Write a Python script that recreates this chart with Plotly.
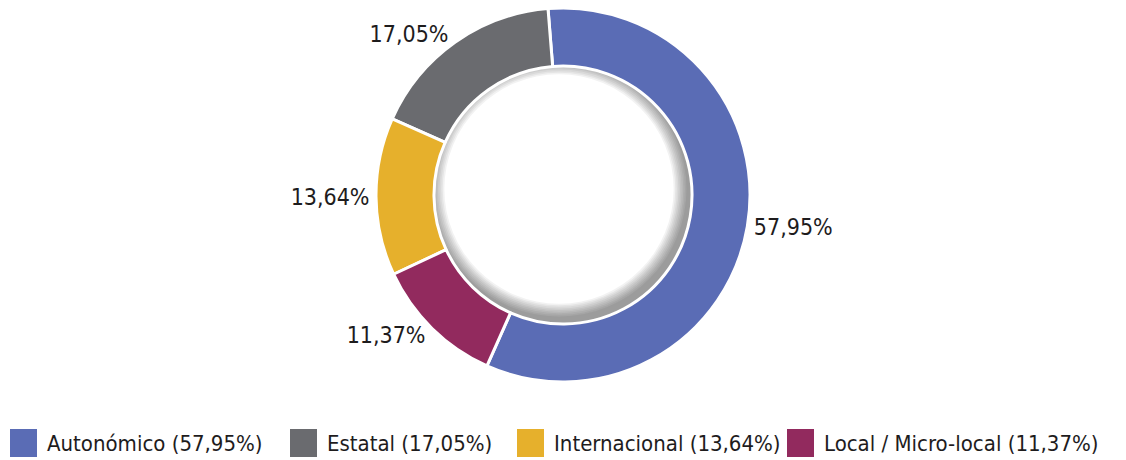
import plotly.graph_objects as go

# Data
labels = ["Autonómico", "Estatal", "Internacional", "Local / Micro-local"]
values = [57.95, 17.05, 13.64, 11.37]
colors = ["#5a6cb5", "#6a6b6f", "#e6b02c", "#922a5e"]

# The page puts the figure 8px in from the top-left corner, so work in
# reference pixels and subtract that offset.
OFF = 8
W, H = 1126 - OFF, 460 - OFF
R = 187
cx_px, cy_px = 563 - OFF, 195 - OFF      # donut centre (figure pixels)
top = cy_px - R
plot_h = 2 * R
bottom = H - top - plot_h
hole = 0.69
legend_x = [10, 290, 517, 787]          # reference pixels
FONT = "DejaVu Sans Condensed, Liberation Sans Narrow, sans-serif"


def fmt(v):
    return f"{v:.2f}".replace(".", ",") + "%"


def px(x):
    return (x - OFF) / W


def py(y):
    return (top + plot_h - (y - OFF)) / plot_h


fig = go.Figure()

# soft inner shadow: stacked faint rings under the hole, shifted up-left so
# the shade shows mostly along the lower-right inner edge
r_s = R * 0.73
dx, dy = -4, 6
for k in range(1, 10):
    sx = (cx_px + dx) / W
    sy = 0.5 + dy / plot_h
    fig.add_trace(go.Pie(
        values=[1],
        marker=dict(colors=["rgba(0,0,0,0.05)"], line=dict(width=0)),
        hole=(R * hole - 1.6 * k) / r_s,
        domain=dict(x=[sx - r_s / W, sx + r_s / W], y=[sy - r_s / plot_h, sy + r_s / plot_h]),
        textinfo="none", hoverinfo="skip", showlegend=False, sort=False,
    ))

fig.add_trace(go.Pie(
    labels=labels,
    values=values,
    text=[fmt(v) for v in values],
    textinfo="text",
    textposition="outside",
    textfont=dict(family=FONT, size=23, color="#1e1c1d"),
    marker=dict(colors=colors, line=dict(color="white", width=3)),
    hole=hole,
    sort=False,
    direction="counterclockwise",
    rotation=-4.6,
    showlegend=False,
    domain=dict(x=[(cx_px - R) / W, (cx_px + R) / W], y=[0, 1]),
))

# legend drawn as squares + labels under the donut
shapes = []
annotations = []
for lx, lab, v, c in zip(legend_x, labels, values, colors):
    shapes.append(dict(
        type="rect", xref="paper", yref="paper", line=dict(width=0), fillcolor=c,
        x0=px(lx), x1=px(lx + 27), y0=py(457), y1=py(429),
    ))
    annotations.append(dict(
        xref="paper", yref="paper", x=px(lx + 35), y=py(443),
        xanchor="left", yanchor="middle", showarrow=False,
        text=f"{lab} ({fmt(v)})",
        font=dict(family=FONT, size=22, color="#1e1c1d"),
    ))

fig.update_layout(
    width=W, height=H,
    margin=dict(l=0, r=0, t=top, b=bottom, autoexpand=False),
    paper_bgcolor="white",
    plot_bgcolor="white",
    showlegend=False,
    shapes=shapes,
    annotations=annotations,
)

fig.write_html("out.html")
